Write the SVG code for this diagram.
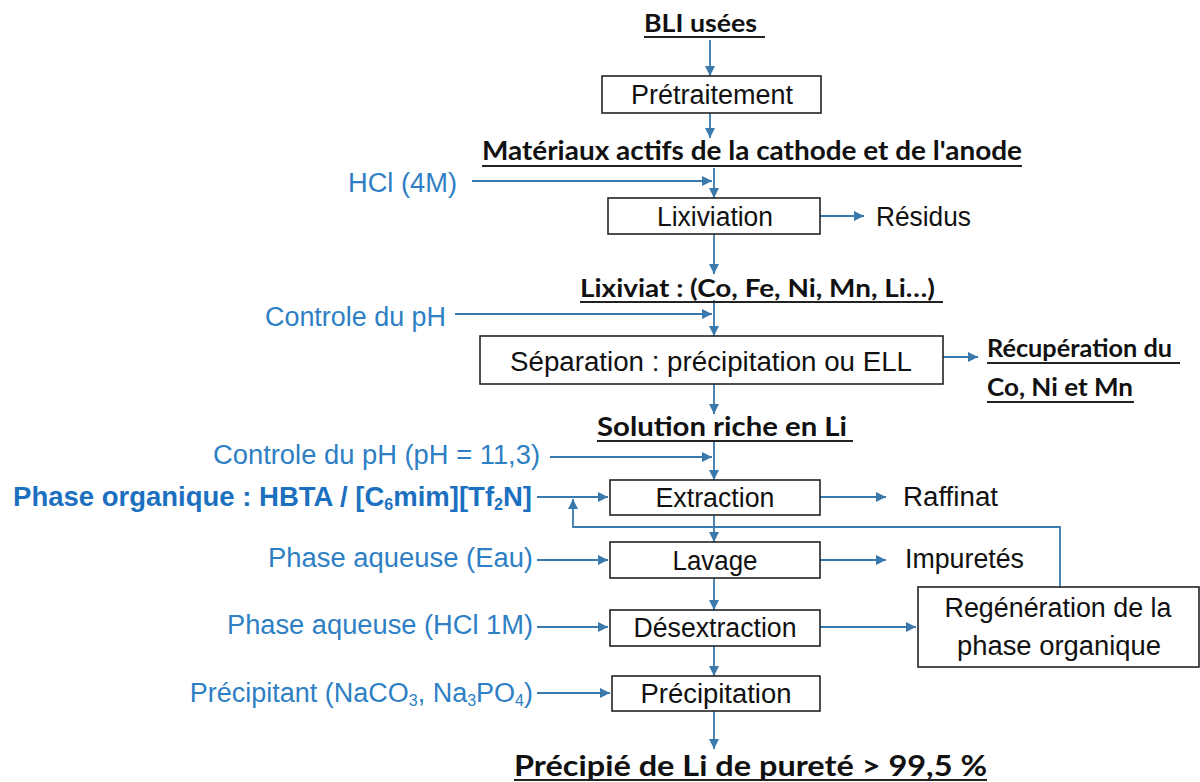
<svg xmlns="http://www.w3.org/2000/svg" width="1200" height="782" viewBox="0 0 1200 782">
<defs>
<marker id="ah" markerUnits="userSpaceOnUse" markerWidth="12" markerHeight="10" refX="10" refY="5" orient="auto">
<path d="M0,0 L10,5 L0,10 Z" fill="#3A79AC"/>
</marker>
</defs>
<style>
.box{fill:#fff;stroke:#222;stroke-width:1.6}
.t{font-family:"Liberation Sans",Arial,sans-serif;font-size:27px;fill:#111;text-anchor:middle}
.tl{font-family:"Liberation Sans",Arial,sans-serif;font-size:27px;fill:#111}
.b{font-family:"Liberation Sans",Arial,sans-serif;font-size:27px;fill:#2E7FC4;text-anchor:end}
.bb{font-family:"Liberation Sans",Arial,sans-serif;font-size:27.5px;font-weight:700;fill:#1C70C0;text-anchor:end}
.h{font-family:Lato,"Open Sans",sans-serif;font-weight:700;fill:#111}
.ul{stroke:#222;stroke-width:2.2}
.c{fill:none;stroke:#3A79AC;stroke-width:1.8}
.sub{font-size:16px}
</style>
<rect width="1200" height="782" fill="#fff"/>

<g id="connectors">
<line class="c" x1="710" y1="40" x2="710" y2="76" marker-end="url(#ah)"/>
<line class="c" x1="710" y1="113" x2="710" y2="138" marker-end="url(#ah)"/>
<line class="c" x1="472" y1="181" x2="712" y2="181" marker-end="url(#ah)"/>
<line class="c" x1="714" y1="168" x2="714" y2="198" marker-end="url(#ah)"/>
<line class="c" x1="820" y1="216" x2="864" y2="216" marker-end="url(#ah)"/>
<line class="c" x1="714" y1="234" x2="714" y2="274" marker-end="url(#ah)"/>
<line class="c" x1="455" y1="314" x2="712" y2="314" marker-end="url(#ah)"/>
<line class="c" x1="714" y1="300" x2="714" y2="336" marker-end="url(#ah)"/>
<line class="c" x1="943" y1="357" x2="978" y2="357" marker-end="url(#ah)"/>
<line class="c" x1="714" y1="384" x2="714" y2="414" marker-end="url(#ah)"/>
<line class="c" x1="550" y1="457" x2="712" y2="457" marker-end="url(#ah)"/>
<line class="c" x1="714" y1="440" x2="714" y2="480" marker-end="url(#ah)"/>
<line class="c" x1="537" y1="497" x2="608" y2="497" marker-end="url(#ah)"/>
<line class="c" x1="820" y1="497" x2="886" y2="497" marker-end="url(#ah)"/>
<polyline class="c" points="1060,587 1060,527 573,527 573,499" marker-end="url(#ah)"/>
<line class="c" x1="714" y1="515" x2="714" y2="542" marker-end="url(#ah)"/>
<line class="c" x1="537" y1="560" x2="608" y2="560" marker-end="url(#ah)"/>
<line class="c" x1="820" y1="560" x2="886" y2="560" marker-end="url(#ah)"/>
<line class="c" x1="714" y1="578" x2="714" y2="610" marker-end="url(#ah)"/>
<line class="c" x1="537" y1="627" x2="608" y2="627" marker-end="url(#ah)"/>
<line class="c" x1="820" y1="627" x2="916" y2="627" marker-end="url(#ah)"/>
<line class="c" x1="714" y1="646" x2="714" y2="676" marker-end="url(#ah)"/>
<line class="c" x1="537" y1="693" x2="610" y2="693" marker-end="url(#ah)"/>
<line class="c" x1="714" y1="711" x2="714" y2="749" marker-end="url(#ah)"/>
</g>

<g id="bli">
<text class="h" x="644" y="32" font-size="24" textLength="113" lengthAdjust="spacingAndGlyphs">BLI usées</text>
<line class="ul" x1="644" y1="37" x2="765" y2="37"/>
</g>
<g id="pretraitement">
<rect class="box" x="602" y="76" width="219" height="37"/>
<text class="t" x="712" y="104" textLength="162" lengthAdjust="spacingAndGlyphs">Prétraitement</text>
</g>
<g id="materiaux">
<text class="h" x="482" y="160" font-size="26" textLength="540" lengthAdjust="spacingAndGlyphs">Matériaux actifs de la cathode et de l'anode</text>
<line class="ul" x1="482" y1="166" x2="1022" y2="166"/>
</g>
<g id="hcl">
<text class="b" x="457" y="192" textLength="109" lengthAdjust="spacingAndGlyphs">HCl (4M)</text>
</g>
<g id="lixiviation">
<rect class="box" x="608" y="198" width="212" height="36"/>
<text class="t" x="715" y="226" textLength="116" lengthAdjust="spacingAndGlyphs">Lixiviation</text>
</g>
<g id="residus">
<text class="tl" x="876" y="226" textLength="95" lengthAdjust="spacingAndGlyphs">Résidus</text>
</g>
<g id="lixiviat">
<text class="h" x="580" y="297" font-size="25" textLength="355" lengthAdjust="spacingAndGlyphs">Lixiviat : (Co, Fe, Ni, Mn, Li…)</text>
<line class="ul" x1="580" y1="302" x2="943" y2="302"/>
</g>
<g id="ph1">
<text class="b" x="446" y="326" textLength="181" lengthAdjust="spacingAndGlyphs">Controle du pH</text>
</g>
<g id="separation">
<rect class="box" x="480" y="336" width="463" height="48"/>
<text class="t" x="711" y="371" textLength="402" lengthAdjust="spacingAndGlyphs">Séparation : précipitation ou ELL</text>
</g>
<g id="recuperation">
<text class="h" x="987" y="357" font-size="24" textLength="185" lengthAdjust="spacingAndGlyphs">Récupération du</text>
<line class="ul" x1="987" y1="363" x2="1180" y2="363"/>
<text class="h" x="987" y="396" font-size="24" textLength="146" lengthAdjust="spacingAndGlyphs">Co, Ni et Mn</text>
<line class="ul" x1="987" y1="402" x2="1134" y2="402"/>
</g>
<g id="solution">
<text class="h" x="597" y="436" font-size="26" textLength="250" lengthAdjust="spacingAndGlyphs">Solution riche en Li</text>
<line class="ul" x1="597" y1="441" x2="853" y2="441"/>
</g>
<g id="ph2">
<text class="b" x="540" y="464" textLength="327" lengthAdjust="spacingAndGlyphs">Controle du pH (pH = 11,3)</text>
</g>
<g id="phase-organique">
<text class="bb" x="532" y="506">Phase organique : HBTA / [C<tspan class="sub" dy="4">6</tspan><tspan dy="-4">mim][Tf</tspan><tspan class="sub" dy="4">2</tspan><tspan dy="-4">N]</tspan></text>
</g>
<g id="extraction">
<rect class="box" x="610" y="480" width="210" height="35"/>
<text class="t" x="715" y="507" textLength="119" lengthAdjust="spacingAndGlyphs">Extraction</text>
</g>
<g id="raffinat">
<text class="tl" x="903" y="506" textLength="95" lengthAdjust="spacingAndGlyphs">Raffinat</text>
</g>
<g id="eau">
<text class="b" x="533" y="567" textLength="265" lengthAdjust="spacingAndGlyphs">Phase aqueuse (Eau)</text>
</g>
<g id="lavage">
<rect class="box" x="610" y="542" width="210" height="36"/>
<text class="t" x="715" y="570" textLength="85" lengthAdjust="spacingAndGlyphs">Lavage</text>
</g>
<g id="impuretes">
<text class="tl" x="905" y="568" textLength="119" lengthAdjust="spacingAndGlyphs">Impuretés</text>
</g>
<g id="hcl1m">
<text class="b" x="533" y="634" textLength="306" lengthAdjust="spacingAndGlyphs">Phase aqueuse (HCl 1M)</text>
</g>
<g id="desextraction">
<rect class="box" x="610" y="610" width="210" height="36"/>
<text class="t" x="715" y="637" textLength="163" lengthAdjust="spacingAndGlyphs">Désextraction</text>
</g>
<g id="regeneration">
<rect class="box" x="918" y="587" width="281" height="80"/>
<text class="t" x="1058" y="617" textLength="227" lengthAdjust="spacingAndGlyphs">Regénération de la</text>
<text class="t" x="1059" y="655" textLength="204" lengthAdjust="spacingAndGlyphs">phase organique</text>
</g>
<g id="precipitant">
<text class="b" x="533" y="702" font-size="27.7">Précipitant (NaCO<tspan class="sub" dy="4">3</tspan><tspan dy="-4">, Na</tspan><tspan class="sub" dy="4">3</tspan><tspan dy="-4">PO</tspan><tspan class="sub" dy="4">4</tspan><tspan dy="-4">)</tspan></text>
</g>
<g id="precipitation">
<rect class="box" x="612" y="676" width="208" height="35"/>
<text class="t" x="716" y="703" textLength="151" lengthAdjust="spacingAndGlyphs">Précipitation</text>
</g>
<g id="precipite">
<text class="h" x="514" y="776" font-size="28" textLength="473" lengthAdjust="spacingAndGlyphs">Précipié de Li de pureté &gt; 99,5 %</text>
<line class="ul" x1="514" y1="780" x2="987" y2="780"/>
</g>
</svg>
